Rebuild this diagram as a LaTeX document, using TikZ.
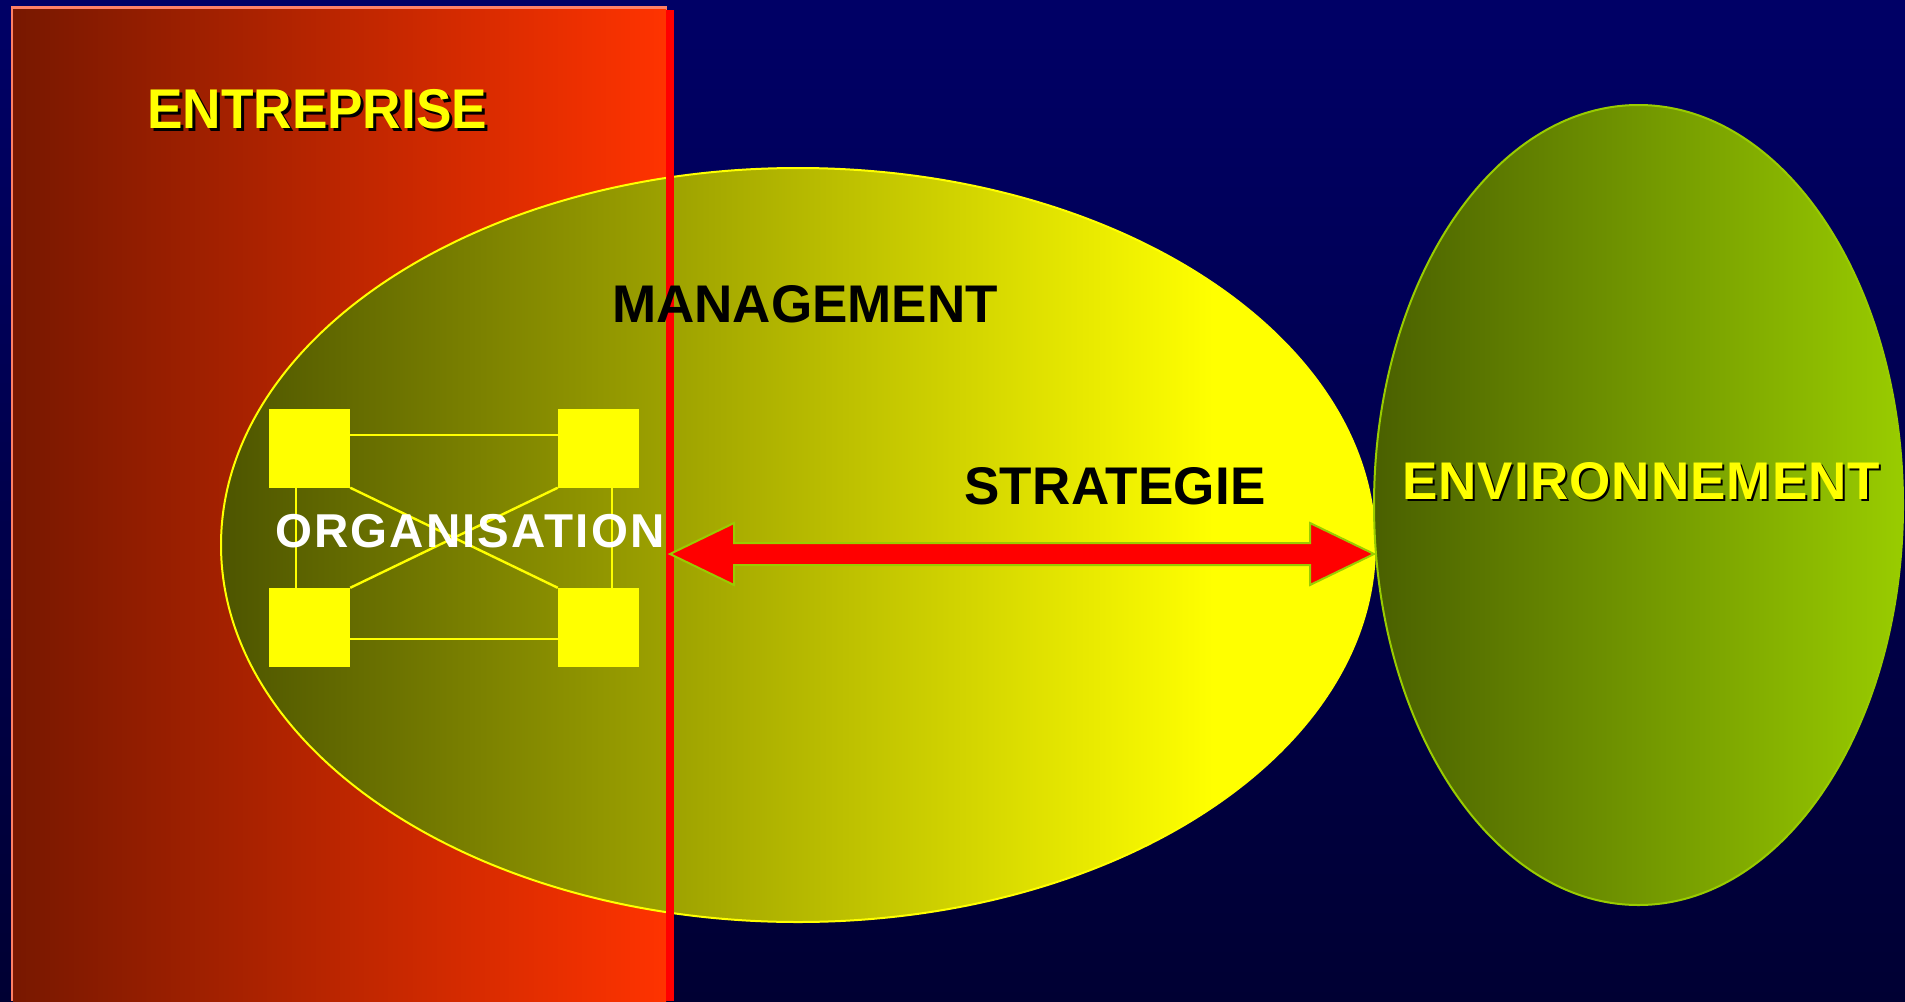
\documentclass[tikz,border=0pt]{standalone}
\usepackage{fontspec}
\setmainfont{Liberation Sans}
\definecolor{bgtop}{HTML}{000066}
\definecolor{bgbot}{HTML}{000033}
\definecolor{redL}{HTML}{781800}
\definecolor{redR}{HTML}{FF3300}
\definecolor{edgesalmon}{HTML}{FF8066}
\definecolor{ellL}{HTML}{4D5500}
\definecolor{ellR}{HTML}{FFFF00}
\definecolor{grnL}{HTML}{4A6000}
\definecolor{grnR}{HTML}{99CC00}
\definecolor{arrowedge}{HTML}{99CC00}
\definecolor{sqyellow}{HTML}{FFFF00}
\definecolor{txtyellow}{HTML}{FFFF00}
\pgfdeclarehorizontalshading{ellsh}{100bp}{color(0bp)=(ellL); color(25bp)=(ellL); color(68bp)=(ellR); color(100bp)=(ellR)}
\pgfdeclarehorizontalshading{grnsh}{100bp}{color(0bp)=(grnL); color(25bp)=(grnL); color(75bp)=(grnR); color(100bp)=(grnR)}
\pgfdeclarehorizontalshading{redsh}{100bp}{color(0bp)=(redL); color(25bp)=(redL); color(75bp)=(redR); color(100bp)=(redR)}
\tikzset{
  lbl/.style={inner sep=0pt, anchor=base west, font=\bfseries},
  sq/.style={fill=sqyellow, minimum width=81pt, minimum height=79pt, inner sep=0pt},
  link/.style={draw=sqyellow, line width=2.4pt},
  bigarrow/.style={fill=red, draw=arrowedge, line width=2pt, line join=miter},
}
\begin{document}
\begin{tikzpicture}[x=1pt,y=-1pt]
\useasboundingbox (0,0) rectangle (1905,1001);
% background
\shade[top color=bgtop, bottom color=bgbot] (0,0) rectangle (1905,1001);
% enterprise rectangle
\fill[edgesalmon] (11,6) rectangle (667,1001);
\shade[shading=redsh] (13,9) rectangle (666,1001);
% management ellipse
\shade[shading=ellsh, draw=ellR, line width=2pt] (798,545) ellipse [x radius=577pt, y radius=377pt];
% organisation squares
\node[sq] (tl) at (309.5,448) {};
\node[sq] (tr) at (598.5,448) {};
\node[sq] (bl) at (309.5,627.5) {};
\node[sq] (br) at (598.5,627.5) {};
\draw[link] (tl.18) -- (tr.162);
\draw[link] (bl.-16) -- (br.196);
\draw[link] (tl.-109) -- (bl.109);
\draw[link] (tr.-71) -- (br.71);
\draw[link] (tl.south east) -- (br.north west);
\draw[link] (tr.south west) -- (bl.north east);
% red dividing line
\fill[red] (666,10) rectangle (674,1001);
% texts
\node[lbl, text=black] (entS) at (150,131) {\fontsize{56pt}{56pt}\selectfont\scalebox{0.95}[1]{ENTREPRISE}};
\node[lbl, text=txtyellow] (ent) at (147,128) {\fontsize{56pt}{56pt}\selectfont\scalebox{0.95}[1]{ENTREPRISE}};
\node[lbl, text=black] (man) at (612,322) {\fontsize{53pt}{53pt}\selectfont MANAGEMENT};
\node[lbl, text=black] (str) at (964,504) {\fontsize{53pt}{53pt}\selectfont\addfontfeatures{LetterSpace=0.5}STRATEGIE};
\node[lbl, text=white] (org) at (275,547) {\fontsize{47.5pt}{47.5pt}\selectfont\addfontfeatures{LetterSpace=4.5}ORGANISATION};
% double arrow
\coordinate (aL) at (670,554);
\coordinate (aR) at (1374,554);
\draw[bigarrow] (aL) -- ++(64,-31) -- ++(0,20) -- ++(576,0) -- ++(0,-20) -- (aR)
  -- ++(-64,31) -- ++(0,-20) -- ++(-576,0) -- ++(0,20) -- cycle;
% environment ellipse
\shade[shading=grnsh, draw=grnR, line width=2pt] (1638.5,505) ellipse [x radius=264.5pt, y radius=400pt];
\node[lbl, text=black] (envS) at (1404,501) {\fontsize{53pt}{53pt}\selectfont\addfontfeatures{LetterSpace=2}ENVIRONNEMENT};
\node[lbl, text=txtyellow] (env) at (1402,499) {\fontsize{53pt}{53pt}\selectfont\addfontfeatures{LetterSpace=2}ENVIRONNEMENT};
\end{tikzpicture}
\end{document}
